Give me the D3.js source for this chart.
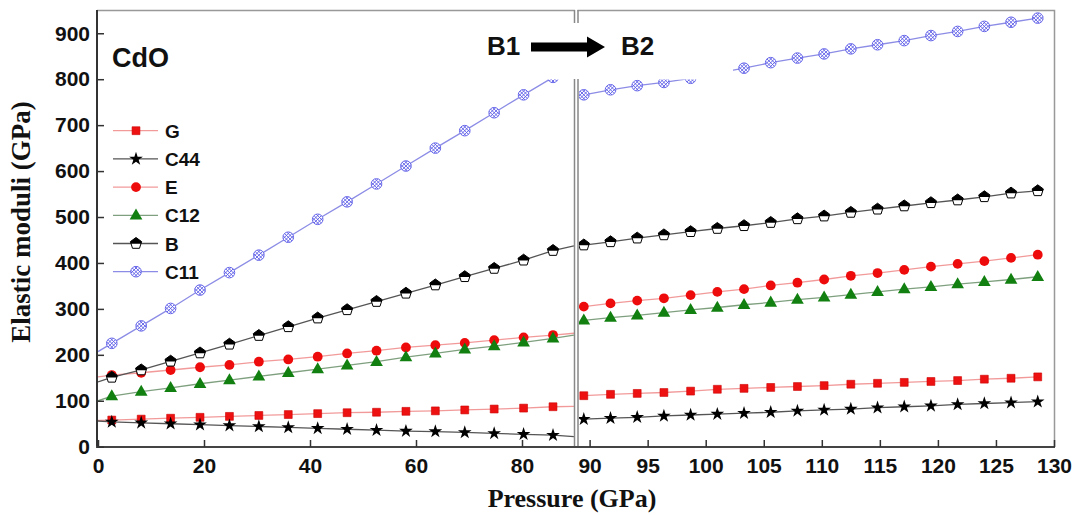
<!DOCTYPE html>
<html><head><meta charset="utf-8">
<script src="https://cdn.jsdelivr.net/npm/d3@7"></script>
<style>body{margin:0;background:#fff} svg{display:block}</style>
</head><body>
<svg id="c" width="1077" height="515"></svg>
<script>
// ---- data (GPa) ----
// B1 phase: first and last entries are line extensions to the panel edges (no marker)
const pressureB1 = [0, 2.6, 8.15, 13.7, 19.25, 24.8, 30.35, 35.9, 41.45, 47.0, 52.55, 58.1, 63.65, 69.2, 74.75, 80.3, 85.85, 89.8];
const pressureB2 = [89.5, 91.8, 94.1, 96.4, 98.7, 101.0, 103.3, 105.6, 107.9, 110.2, 112.5, 114.8, 117.1, 119.4, 121.7, 124.0, 126.3, 128.6];

const G_B1   = [57, 58, 60, 62, 64, 66, 68, 70, 72, 74, 75, 77, 78, 80, 82, 84, 87, 88];
const C44_B1 = [56, 54, 52, 50, 48, 46, 44, 42, 40, 38, 36, 34, 33, 31, 29, 27, 25, 22];
const E_B1   = [152, 156, 161, 167, 173, 178, 185, 190, 196, 203, 209, 216, 221, 226, 232, 238, 243, 247];
const C12_B1 = [100, 110, 120, 128, 137, 145, 153, 161, 169, 177, 185, 195, 203, 212, 219, 227, 236, 243];
const B_B1   = [141, 151, 167, 186, 204, 223, 242, 261, 280, 298, 316, 334, 352, 370, 388, 406, 427, 437];
const C11_B1 = [207, 225, 263, 301, 341, 379, 417, 456, 495, 533, 572, 611, 650, 688, 727, 766, 804, 820];

const G_B2   = [111, 114, 116, 118, 121, 125, 127, 129, 131, 133, 136, 138, 140, 142, 144, 147, 149, 152];
const C44_B2 = [60, 62, 64, 67, 69, 71, 73, 75, 78, 80, 82, 85, 87, 89, 92, 94, 96, 98];
const E_B2   = [305, 312, 318, 323, 330, 337, 343, 351, 357, 364, 372, 378, 385, 392, 398, 404, 411, 418];
const C12_B2 = [275, 281, 286, 292, 298, 303, 309, 314, 320, 325, 331, 337, 343, 348, 354, 359, 364, 370];
const B_B2   = [439, 446, 454, 461, 468, 475, 481, 488, 496, 502, 510, 517, 524, 531, 537, 544, 552, 557];
const C11_B2 = [766, 777, 786, 793, 802, 813, 824, 836, 846, 855, 866, 875, 884, 895, 904, 915, 924, 933];

const seriesNames = ["G", "C44", "E", "C12", "B", "C11"];
const yTicks = [0, 100, 200, 300, 400, 500, 600, 700, 800, 900];
const xTicksB1 = [0, 20, 40, 60, 80];
const xTicksB2 = [90, 95, 100, 105, 110, 115, 120, 125, 130];

// ---- styles ----
const style = {
  G:   {line: "#f29a9a", marker: "square"},
  C44: {line: "#555555", marker: "star"},
  E:   {line: "#f29a9a", marker: "circle"},
  C12: {line: "#7fa07f", marker: "triangle"},
  B:   {line: "#555555", marker: "pent"},
  C11: {line: "#8c8ce6", marker: "hatch"}
};
const dataB1 = {G: G_B1, C44: C44_B1, E: E_B1, C12: C12_B1, B: B_B1, C11: C11_B1};
const dataB2 = {G: G_B2, C44: C44_B2, E: E_B2, C12: C12_B2, B: B_B2, C11: C11_B2};

const svg = d3.select("#c");
const y = d3.scaleLinear().domain([0, 950]).range([446.7, 10.3]);
const x1 = d3.scaleLinear().domain([0, 90]).range([98, 575]);
const x2 = d3.scaleLinear().domain([89, 130]).range([578, 1054]);

const defs = svg.append("defs");
defs.append("clipPath").attr("id", "clip1").append("rect").attr("x", 98).attr("y", 10).attr("width", 476).attr("height", 437);
defs.append("clipPath").attr("id", "clip2").append("rect").attr("x", 579).attr("y", 10).attr("width", 475).attr("height", 437);

function hatchPath(r) {
  let p = `M${-r},0A${r},${r} 0 1,0 ${r},0A${r},${r} 0 1,0 ${-r},0`;
  const s = Math.SQRT1_2;
  [-2.6, 0, 2.6].forEach(d => {
    const t = Math.sqrt(r * r - d * d);
    // direction (s,s), normal (s,-s)
    p += `M${d*s - t*s},${-d*s - t*s}L${d*s + t*s},${-d*s + t*s}`;
    // direction (s,-s), normal (s,s)
    p += `M${d*s - t*s},${d*s + t*s}L${d*s + t*s},${d*s - t*s}`;
  });
  return p;
}

function drawMarker(g, kind, cx, cy) {
  const m = g.append("g").attr("transform", `translate(${cx},${cy})`);
  if (kind === "square") {
    m.append("path").attr("d", d3.symbol(d3.symbolSquare, 62)()).attr("fill", "#ee1111").attr("stroke", "#cc0000").attr("stroke-width", 0.6);
  } else if (kind === "star") {
    m.append("path").attr("d", d3.symbol(d3.symbolStar, 58)()).attr("fill", "#000");
  } else if (kind === "circle") {
    m.append("circle").attr("r", 4.9).attr("fill", "#ee0b0b");
  } else if (kind === "triangle") {
    m.append("path").attr("d", d3.symbol(d3.symbolTriangle, 70)()).attr("transform", "translate(0,0.5)").attr("fill", "#118011");
  } else if (kind === "pent") {
    m.append("path").attr("d", "M0,-6L5.6,-1.9L3.5,4.8L-3.5,4.8L-5.6,-1.9Z").attr("fill", "#fff").attr("stroke", "#000").attr("stroke-width", 1);
    m.append("path").attr("d", "M0,-6L5.6,-1.9L5.2,0.2L-5.2,0.2L-5.6,-1.9Z").attr("fill", "#000");
  } else if (kind === "hatch") {
    m.append("path").attr("d", hatchPath(5.3)).attr("fill", "#fff").attr("stroke", "#5a5ae8").attr("stroke-width", 0.9);
  }
}

function drawPanel(xs, pressures, data, clipId, skipEnds) {
  const g = svg.append("g").attr("clip-path", `url(#${clipId})`);
  seriesNames.forEach(name => {
    const vals = data[name];
    const pts = pressures.map((p, i) => [xs(p), y(vals[i])]);
    g.append("path").attr("d", d3.line()(pts)).attr("fill", "none")
      .attr("stroke", style[name].line).attr("stroke-width", 1.3);
    pts.forEach((pt, i) => {
      if (skipEnds && (i === 0 || i === pts.length - 1)) return;
      drawMarker(g, style[name].marker, pt[0], pt[1]);
    });
  });
}

drawPanel(x1, pressureB1, dataB1, "clip1", true);
drawPanel(x2, pressureB2, dataB2, "clip2", false);

// white box behind the phase-transition label
svg.append("rect").attr("x", 440).attr("y", 23).attr("width", 293).attr("height", 56.5).attr("fill", "#fff");

// frame
const frame = svg.append("g").attr("fill", "none");
frame.append("path").attr("d", "M97,10.5H575").attr("stroke", "#999").attr("stroke-width", 1.5);
frame.append("path").attr("d", "M577.5,10.5H1054.5V447").attr("stroke", "#999").attr("stroke-width", 1.5);
frame.append("path").attr("d", "M574.5,10V23M574.5,79V447").attr("stroke", "#888").attr("stroke-width", 1.5);
frame.append("path").attr("d", "M578,10V23M578,79V447").attr("stroke", "#888").attr("stroke-width", 1.5);
frame.append("path").attr("d", "M97,10V447.5").attr("stroke", "#333").attr("stroke-width", 2);
frame.append("path").attr("d", "M96,447H1055").attr("stroke", "#444").attr("stroke-width", 2);

// axes
const tickFont = g => g.selectAll("text").attr("font-family", "'Liberation Sans', Arial, sans-serif")
  .attr("font-weight", "bold").attr("font-size", 21).attr("fill", "#111");
const yAx = svg.append("g").attr("transform", "translate(97,0)")
  .call(d3.axisLeft(y).tickValues(yTicks).tickSizeInner(-7).tickSizeOuter(0).tickPadding(7));
yAx.call(tickFont); yAx.select(".domain").remove(); yAx.selectAll("line").attr("stroke", "#333").attr("stroke-width", 1.5);

const xAx1 = svg.append("g").attr("transform", "translate(0,447)")
  .call(d3.axisBottom(x1).tickValues(xTicksB1).tickSizeInner(-7).tickSizeOuter(0).tickPadding(11));
xAx1.call(tickFont); xAx1.select(".domain").remove(); xAx1.selectAll("line").attr("stroke", "#333").attr("stroke-width", 1.5);

const xAx2 = svg.append("g").attr("transform", "translate(0,447)")
  .call(d3.axisBottom(x2).tickValues(xTicksB2).tickSizeInner(-7).tickSizeOuter(0).tickPadding(11));
xAx2.call(tickFont); xAx2.select(".domain").remove(); xAx2.selectAll("line").attr("stroke", "#333").attr("stroke-width", 1.5);

// axis titles
svg.append("text").attr("x", 572).attr("y", 507).attr("text-anchor", "middle")
  .attr("font-family", "'Liberation Serif', 'Times New Roman', serif").attr("font-weight", "bold")
  .attr("font-size", 26).attr("fill", "#111").text("Pressure (GPa)");
svg.append("text").attr("transform", "translate(30,222) rotate(-90)").attr("text-anchor", "middle")
  .attr("font-family", "'Liberation Serif', 'Times New Roman', serif").attr("font-weight", "bold")
  .attr("font-size", 27).attr("fill", "#111").text("Elastic moduli (GPa)");

// annotations
svg.append("text").attr("x", 112).attr("y", 67).attr("font-family", "'Liberation Sans', Arial, sans-serif")
  .attr("font-weight", "bold").attr("font-size", 27).attr("fill", "#111").text("CdO");
svg.append("text").attr("x", 487).attr("y", 55).attr("font-family", "'Liberation Sans', Arial, sans-serif")
  .attr("font-weight", "bold").attr("font-size", 26).attr("fill", "#111").text("B1");
svg.append("text").attr("x", 621).attr("y", 55).attr("font-family", "'Liberation Sans', Arial, sans-serif")
  .attr("font-weight", "bold").attr("font-size", 26).attr("fill", "#111").text("B2");
svg.append("path").attr("d", "M531,42.5H587V36.5L605,47L587,57.5V51.5H531Z").attr("fill", "#000");

// legend
const leg = svg.append("g");
const legY0 = 130.7, legDy = 28.2;
seriesNames.forEach((name, i) => {
  const cy = legY0 + i * legDy;
  leg.append("path").attr("d", `M113,${cy}H158`).attr("stroke", style[name].line).attr("stroke-width", 1.3);
  drawMarker(leg, style[name].marker, 136, cy);
  leg.append("text").attr("x", 165).attr("y", cy + 7).attr("font-family", "'Liberation Sans', Arial, sans-serif")
    .attr("font-weight", "bold").attr("font-size", 19).attr("fill", "#111").text(name);
});
</script>
</body></html>
